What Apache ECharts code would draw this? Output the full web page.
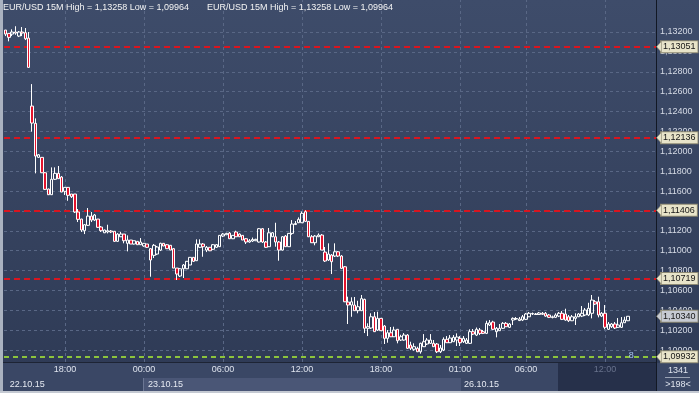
<!DOCTYPE html>
<html><head><meta charset="utf-8">
<script src="https://cdn.jsdelivr.net/npm/echarts@6/dist/echarts.min.js"></script>
<style>html,body{margin:0;padding:0;background:#34415e;}#c{width:699px;height:393px;}</style>
</head><body><div id="c"></div>
<script>
// ---------- data ----------
const sessions = [
  { date: '22.10.15', start: '13:30', bars: 42 },
  { date: '23.10.15', start: '00:00', bars: 96 },
  { date: '26.10.15', start: '01:00', bars: 60 }
];
const xTicks = ['22.10.15 18:00', '23.10.15 00:00', '23.10.15 06:00', '23.10.15 12:00',
  '23.10.15 18:00', '26.10.15 01:00', '26.10.15 06:00', '26.10.15 12:00'];
const dimTick = '26.10.15 12:00';
const yTicks = [1.100, 1.102, 1.104, 1.106, 1.108, 1.110, 1.112, 1.114, 1.116,
  1.118, 1.120, 1.122, 1.124, 1.126, 1.128, 1.130, 1.132];
const yMin = 1.0988, yMax = 1.13522;

const open = [1.13220,1.13186,1.13179,1.13200,1.13159,1.13200,1.13193,1.13139,1.12455,1.12281,
1.11939,1.11939,1.11784,1.11620,1.11563,1.11718,1.11778,1.11741,1.11597,1.11637,
1.11570,1.11570,1.11389,1.11318,1.11201,1.11255,1.11348,1.11308,1.11318,1.11238,
1.11180,1.11188,1.11198,1.11195,1.11094,1.11140,1.11167,1.11074,1.11107,1.11067,
1.11094,1.11060,1.11047,1.11067,1.11020,1.10953,1.10966,1.11006,1.11074,1.11060,
1.11054,1.11020,1.10825,1.10745,1.10818,1.10818,1.10856,1.10933,1.10899,1.11034,
1.11067,1.11006,1.11034,1.11014,1.11034,1.11040,1.11147,1.11160,1.11177,1.11120,
1.11188,1.11167,1.11154,1.11120,1.11087,1.11097,1.11100,1.11087,1.11221,1.11087,
1.11040,1.11140,1.11140,1.11087,1.11006,1.11147,1.11040,1.11174,1.11263,1.11281,
1.11281,1.11392,1.11295,1.11140,1.11080,1.11140,1.11157,1.10986,1.10906,1.10956,
1.10946,1.10989,1.10946,1.10838,1.10483,1.10453,1.10453,1.10396,1.10396,1.10510,
1.10219,1.10222,1.10335,1.10202,1.10319,1.10242,1.10118,1.10174,1.10134,1.10209,
1.10101,1.10101,1.10151,1.10051,1.10008,1.10018,1.09983,1.10034,1.10061,1.10068,
1.10068,1.10061,1.09983,1.10000,1.10108,1.10074,1.10084,1.10101,1.10118,1.10084,
1.10068,1.10068,1.10185,1.10151,1.10202,1.10185,1.10168,1.10252,1.10282,1.10185,
1.10195,1.10219,1.10269,1.10229,1.10302,1.10312,1.10297,1.10302,1.10309,1.10335,
1.10363,1.10363,1.10358,1.10370,1.10370,1.10353,1.10327,1.10329,1.10342,1.10370,
1.10363,1.10335,1.10295,1.10319,1.10335,1.10342,1.10353,1.10353,1.10370,1.10486,
1.10486,1.10342,1.10370,1.10209,1.10235,1.10262,1.10229,1.10229,1.10275,1.10295];

const close = [1.13179,1.13146,1.13200,1.13189,1.13200,1.13189,1.13132,1.12844,1.12284,1.11952,
1.11965,1.11784,1.11617,1.11563,1.11718,1.11778,1.11724,1.11590,1.11637,1.11557,
1.11543,1.11389,1.11315,1.11208,1.11261,1.11348,1.11308,1.11359,1.11235,1.11201,
1.11208,1.11201,1.11188,1.11094,1.11167,1.11167,1.11100,1.11107,1.11067,1.11100,
1.11060,1.11087,1.11074,1.11034,1.10906,1.11054,1.11037,1.11074,1.11047,1.11020,
1.11006,1.10825,1.10765,1.10818,1.10856,1.10893,1.10933,1.10893,1.11067,1.11067,
1.11040,1.11034,1.10999,1.11060,1.11060,1.11154,1.11167,1.11174,1.11120,1.11154,
1.11140,1.11140,1.11107,1.11087,1.11100,1.11112,1.11114,1.11221,1.11087,1.11034,
1.11180,1.11180,1.11087,1.11006,1.11140,1.11040,1.11174,1.11268,1.11273,1.11315,
1.11376,1.11295,1.11140,1.11080,1.11147,1.11157,1.11006,1.10896,1.10966,1.10889,
1.10989,1.10946,1.10822,1.10486,1.10453,1.10486,1.10396,1.10436,1.10517,1.10219,
1.10235,1.10335,1.10185,1.10319,1.10195,1.10118,1.10174,1.10134,1.10202,1.10094,
1.10134,1.10151,1.10018,1.10018,1.10034,1.09983,1.10068,1.10084,1.10101,1.10101,
1.10034,1.09983,1.10021,1.10108,1.10074,1.10121,1.10128,1.10131,1.10074,1.10118,
1.10101,1.10185,1.10161,1.10209,1.10168,1.10168,1.10269,1.10275,1.10209,1.10219,
1.10219,1.10269,1.10235,1.10262,1.10319,1.10317,1.10312,1.10335,1.10363,1.10370,
1.10368,1.10358,1.10373,1.10360,1.10342,1.10329,1.10335,1.10353,1.10370,1.10309,
1.10302,1.10295,1.10335,1.10335,1.10363,1.10370,1.10403,1.10420,1.10503,1.10463,
1.10353,1.10370,1.10229,1.10262,1.10262,1.10222,1.10252,1.10275,1.10302,1.10340];

const low = [1.13159,1.13106,1.13159,1.13172,1.13149,1.13159,1.13119,1.12840,1.12197,1.11778,
1.11932,1.11781,1.11610,1.11560,1.11560,1.11711,1.11721,1.11590,1.11560,1.11502,
1.11530,1.11379,1.11288,1.11188,1.11167,1.11248,1.11288,1.11298,1.11228,1.11188,
1.11177,1.11174,1.11177,1.11087,1.11087,1.11137,1.11074,1.10993,1.11067,1.11062,
1.11057,1.11057,1.11040,1.11027,1.10738,1.10926,1.10956,1.10996,1.11047,1.11017,
1.11006,1.10825,1.10705,1.10735,1.10725,1.10815,1.10856,1.10886,1.10896,1.11027,
1.10939,1.10986,1.10996,1.11006,1.11027,1.11037,1.11137,1.11157,1.11117,1.11117,
1.11137,1.11137,1.11107,1.11067,1.11080,1.11087,1.11097,1.11082,1.11077,1.11027,
1.11037,1.11137,1.11040,1.10899,1.11001,1.11037,1.11037,1.11160,1.11258,1.11278,
1.11278,1.11288,1.11137,1.11077,1.11054,1.11137,1.11006,1.10886,1.10896,1.10765,
1.10936,1.10936,1.10815,1.10483,1.10262,1.10335,1.10393,1.10370,1.10393,1.10171,
1.10141,1.10212,1.10182,1.10192,1.10192,1.10061,1.10074,1.10131,1.10131,1.10068,
1.10091,1.10094,1.10011,1.10000,1.09993,1.09980,1.09964,1.10031,1.10051,1.10061,
1.10031,1.09970,1.09970,1.09990,1.10071,1.10071,1.10081,1.10041,1.10041,1.10071,
1.10061,1.10061,1.10151,1.10141,1.10151,1.10161,1.10161,1.10242,1.10202,1.10128,
1.10192,1.10212,1.10232,1.10222,1.10252,1.10302,1.10292,1.10292,1.10302,1.10332,
1.10353,1.10353,1.10353,1.10353,1.10335,1.10322,1.10319,1.10322,1.10332,1.10302,
1.10295,1.10282,1.10292,1.10252,1.10332,1.10332,1.10342,1.10342,1.10319,1.10453,
1.10329,1.10332,1.10209,1.10202,1.10222,1.10212,1.10222,1.10222,1.10272,1.10292];

const high = [1.13220,1.13189,1.13227,1.13258,1.13210,1.13250,1.13240,1.13200,1.12676,1.12331,
1.11972,1.11942,1.11791,1.11625,1.11838,1.11838,1.11852,1.11751,1.11640,1.11640,
1.11570,1.11570,1.11419,1.11321,1.11268,1.11429,1.11389,1.11369,1.11318,1.11248,
1.11211,1.11261,1.11208,1.11198,1.11177,1.11188,1.11167,1.11154,1.11107,1.11100,
1.11097,1.11127,1.11077,1.11067,1.11027,1.11067,1.11047,1.11080,1.11077,1.11067,
1.11057,1.11027,1.10825,1.10825,1.10866,1.10896,1.10936,1.10936,1.11114,1.11114,
1.11077,1.11047,1.11037,1.11067,1.11067,1.11157,1.11177,1.11180,1.11188,1.11157,
1.11201,1.11174,1.11157,1.11127,1.11117,1.11132,1.11120,1.11228,1.11228,1.11097,
1.11228,1.11188,1.11281,1.11097,1.11147,1.11157,1.11177,1.11308,1.11298,1.11335,
1.11395,1.11406,1.11298,1.11157,1.11157,1.11174,1.11167,1.11037,1.11074,1.10966,
1.11074,1.10996,1.10956,1.10845,1.10537,1.10531,1.10534,1.10496,1.10554,1.10517,
1.10269,1.10370,1.10383,1.10386,1.10322,1.10252,1.10202,1.10232,1.10235,1.10212,
1.10154,1.10171,1.10161,1.10084,1.10068,1.10034,1.10074,1.10161,1.10121,1.10161,
1.10101,1.10071,1.10051,1.10128,1.10141,1.10151,1.10151,1.10168,1.10141,1.10141,
1.10121,1.10209,1.10212,1.10227,1.10222,1.10202,1.10295,1.10302,1.10295,1.10232,
1.10262,1.10282,1.10282,1.10272,1.10329,1.10332,1.10332,1.10353,1.10373,1.10383,
1.10378,1.10373,1.10383,1.10383,1.10383,1.10363,1.10347,1.10370,1.10383,1.10393,
1.10416,1.10353,1.10353,1.10370,1.10373,1.10443,1.10423,1.10476,1.10554,1.10503,
1.10537,1.10383,1.10453,1.10282,1.10272,1.10282,1.10322,1.10332,1.10335,1.10342];

const redLevels = [1.13051, 1.12136, 1.11406, 1.10719];
const greenLevel = 1.09932;
const lastPrice = 1.10340;
const titleText = 'EUR/USD 15M High = 1,13258 Low = 1,09964';
const barCountText = '1341';
const visibleBarsText = '>198<';
const emptyBarsText = '8';

// ---------- build ----------
const FONT = "'Liberation Sans', Arial, sans-serif";
const pad = n => (n < 10 ? '0' : '') + n;
const categories = [];
const sessionStarts = [];
sessions.forEach(s => {
  sessionStarts.push(categories.length);
  const [h, m] = s.start.split(':').map(Number);
  const t0 = h * 60 + m;
  for (let k = 0; k < s.bars; k++) {
    const mm = (t0 + 15 * k) % 1440;
    categories.push(s.date + ' ' + pad(Math.floor(mm / 60)) + ':' + pad(mm % 60));
  }
});
const fmt = v => Number(v).toFixed(5).replace('.', ',');
const candles = open.map((o, i) => [o, close[i], low[i], high[i]]);

const gridStyle = { color: '#596785', type: [3, 3], width: 1 };
const TAG_BG = '#e8e4c9', TAG_BG_GRAY = '#c6cad2', TAG_BORDER = '#8c8872';
function tag(bg) {
  return { show: true, position: 'end', distance: 5, formatter: p => fmt(p.value),
    backgroundColor: bg, borderColor: TAG_BORDER, borderWidth: 1, color: '#151515',
    fontSize: 9, fontFamily: FONT, padding: [1, 2, 0, 2], lineHeight: 10 };
}

const chart = echarts.init(document.getElementById('c'), null, { renderer: 'canvas' });
const option = {
  animation: false,
  grid: { left: 4, right: 43, top: 0, bottom: 31, containLabel: false },
  xAxis: [
    { type: 'category', data: categories, boundaryGap: true,
      axisLine: { show: false }, axisTick: { show: false }, splitLine: { show: false },
      axisLabel: { interval: (i, v) => xTicks.includes(v),
        formatter: v => v.split(' ')[1],
        color: (v, i) => ((typeof v === 'number' ? categories[v] : v) === dimTick ? '#68728c' : '#dfe4ee'),
        fontSize: 9, fontFamily: FONT, margin: 3 } },
    { type: 'category', data: categories, boundaryGap: true, position: 'bottom', offset: 14,
      axisLine: { show: false }, axisTick: { show: false }, splitLine: { show: false },
      axisLabel: { interval: (i) => sessionStarts.includes(i),
        formatter: v => v.split(' ')[0], align: 'left', padding: [0, 0, 0, 4],
        color: '#e6eaf2', fontSize: 9, fontFamily: FONT, margin: 4 } }
  ],
  yAxis: { type: 'value', position: 'right', min: yMin, max: yMax, scale: true,
    axisLine: { show: false }, axisTick: { show: false }, splitLine: { show: false },
    axisLabel: { customValues: yTicks, formatter: v => fmt(v), margin: 4,
      color: '#d6dbe6', fontSize: 9, fontFamily: FONT } },
  series: [{
    type: 'candlestick', data: candles, z: 6, barWidth: 3,
    itemStyle: { color: 'rgba(0,0,0,0)', color0: '#e3122c', borderColor: '#ffffff',
      borderColor0: '#ffffff', borderWidth: 1 },
    markLine: {
      silent: true, symbol: ['none', 'none'], animation: false, precision: 6,
      data: [
        ...yTicks.map(v => ({ yAxis: v, lineStyle: gridStyle, label: { show: false } })),
        ...xTicks.map(c => ({ xAxis: c, lineStyle: gridStyle, label: { show: false } })),
        ...redLevels.map(v => ({ yAxis: v, lineStyle: { color: '#d9151f', type: [6, 4], width: 2 }, label: tag(TAG_BG) })),
        { yAxis: greenLevel, lineStyle: { color: '#8cc43c', type: [5, 4], width: 2 }, label: tag(TAG_BG) },
        { yAxis: lastPrice, lineStyle: { color: 'rgba(0,0,0,0)', width: 1 }, label: tag(TAG_BG_GRAY) }
      ]
    }
  }]
};
chart.setOption(option);

// decorations (layout), anchored through the library's scales where tied to values
const gfx = [
  { type: 'rect', z: -20, shape: { x: 0, y: 0, width: 699, height: 393 },
    style: { fill: new echarts.graphic.LinearGradient(0, 0, 0, 1, [
      { offset: 0, color: '#3e4c6a' }, { offset: 1, color: '#2e3a55' }]) } },
  { type: 'rect', z: -15, shape: { x: 3, y: 362, width: 653, height: 1 }, style: { fill: '#1d2434' } },
  { type: 'rect', z: -15, shape: { x: 3, y: 363, width: 653, height: 28 }, style: { fill: '#3a4765' } },
  { type: 'rect', z: -14, shape: { x: 143, y: 378, width: 318, height: 13 }, style: { fill: '#4a5676' } },
  { type: 'rect', z: -14, shape: { x: 143, y: 378, width: 1, height: 13 }, style: { fill: '#6c7794' } },
  { type: 'rect', z: -14, shape: { x: 558, y: 363, width: 98, height: 28 }, style: { fill: '#26304a' } },
  { type: 'rect', z: -15, shape: { x: 657, y: 363, width: 42, height: 28 }, style: { fill: '#3a4765' } },
  { type: 'rect', z: 20, shape: { x: 656, y: 0, width: 1, height: 393 }, style: { fill: '#121824' } },
  { type: 'rect', z: 20, shape: { x: 0, y: 0, width: 3, height: 393 }, style: { fill: '#aab2c0' } },
  { type: 'rect', z: 20, shape: { x: 0, y: 391, width: 699, height: 2 }, style: { fill: '#c4c9d2' } },
  { type: 'rect', z: 20, shape: { x: 665, y: 377, width: 25, height: 1 }, style: { fill: '#9aa3b5' } },
  { type: 'text', z: 20, x: 678, y: 371, style: { text: barCountText, fill: '#dfe4ee', font: '9px ' + FONT, align: 'center', verticalAlign: 'middle' } },
  { type: 'text', z: 20, x: 678, y: 385, style: { text: visibleBarsText, fill: '#dfe4ee', font: '9px ' + FONT, align: 'center', verticalAlign: 'middle' } },
  { type: 'text', z: 20, x: 3, y: 8, style: { text: titleText, fill: '#f4f4f4', font: '9px ' + FONT, verticalAlign: 'middle' } },
  { type: 'text', z: 20, x: 207, y: 8, style: { text: titleText, fill: '#f4f4f4', font: '9px ' + FONT, verticalAlign: 'middle' } }
];
// tag arrows
[...redLevels, greenLevel, lastPrice].forEach(v => {
  const y = chart.convertToPixel({ yAxisIndex: 0 }, v);
  const bg = v === lastPrice ? TAG_BG_GRAY : TAG_BG;
  gfx.push({ type: 'polygon', z: 30, shape: { points: [[656.5, y], [661.5, y - 5.5], [661.5, y + 5.5]] },
    style: { fill: bg, stroke: TAG_BORDER, lineWidth: 0.6 } });
});
// empty-bar counter near the last level line
const ex = chart.convertToPixel({ xAxisIndex: 0 }, categories[open.length]);
const ey = chart.convertToPixel({ yAxisIndex: 0 }, greenLevel);
gfx.push({ type: 'text', z: 30, x: ex, y: ey - 1, style: { text: emptyBarsText, fill: '#a9c6f0', font: '9px ' + FONT, align: 'center', verticalAlign: 'middle' } });
chart.setOption({ graphic: gfx });
</script>
</body></html>
